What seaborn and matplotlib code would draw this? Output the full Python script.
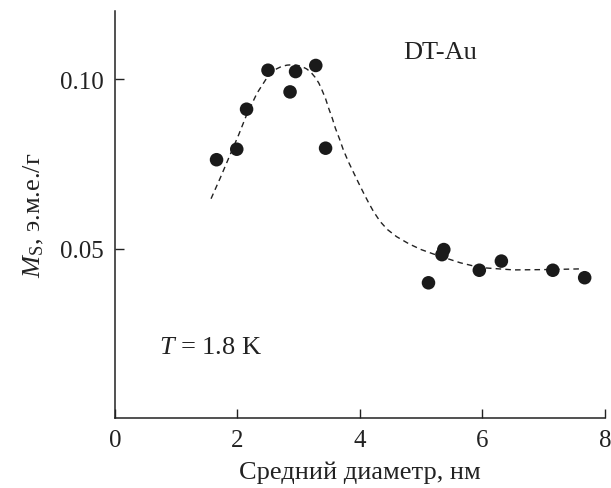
import matplotlib
matplotlib.use('Agg')
import matplotlib.pyplot as plt
import seaborn as sns
import pandas as pd

# measured points
diam = [1.66, 1.99, 2.15, 2.50, 2.86, 2.95, 3.28, 3.44,
        5.12, 5.34, 5.37, 5.95, 6.31, 7.15, 7.67]
ms = [0.0762, 0.0793, 0.0911, 0.1026, 0.0962, 0.1022, 0.1040, 0.0796,
      0.0399, 0.0482, 0.0497, 0.0436, 0.0463, 0.0436, 0.0414]

# dashed guide curve
curve_x = [1.57, 1.72, 1.88, 2.02, 2.15, 2.32, 2.48, 2.56, 2.64, 2.72,
           2.81, 2.89, 2.97, 3.05, 3.13, 3.20, 3.27, 3.33, 3.38, 3.44,
           3.49, 3.55, 3.60, 3.67, 3.73, 3.81, 3.90, 3.98, 4.06, 4.14,
           4.22, 4.33, 4.45, 4.60, 4.80, 5.00, 5.20, 5.40, 5.64, 5.96,
           6.51, 7.05, 7.60]
curve_y = [0.0647, 0.0708, 0.0776, 0.0835, 0.0894, 0.0958, 0.1003, 0.1019,
           0.1030, 0.1037, 0.1041, 0.1042, 0.1041, 0.1037, 0.1030, 0.1020,
           0.1005, 0.0988, 0.0968, 0.0942, 0.0914, 0.0884, 0.0855, 0.0822,
           0.0791, 0.0757, 0.0723, 0.0693, 0.0664, 0.0636, 0.0610, 0.0580,
           0.0556, 0.0535, 0.0514, 0.0497, 0.0484, 0.0472, 0.0458, 0.0444,
           0.0437, 0.0438, 0.0440]

x_ticks = [0, 2, 4, 6, 8]
y_ticks = [0.05, 0.10]

df = pd.DataFrame({'d': diam, 'm': ms})
fit = pd.DataFrame({'d': curve_x, 'm': curve_y})

sns.set_style('ticks')
plt.rcParams['font.family'] = ['Liberation Serif', 'DejaVu Serif']
plt.rcParams['mathtext.fontset'] = 'custom'
plt.rcParams['mathtext.rm'] = 'Liberation Serif'
plt.rcParams['mathtext.it'] = 'Liberation Serif:italic'

fig = plt.figure(figsize=(6.11, 4.89), dpi=100)
ax = fig.add_axes([0.188, 0.143, 0.802, 0.832])

sns.lineplot(data=fit, x='d', y='m', ax=ax, color='#222222', lw=1.0,
             linestyle=(0, (4, 3)), sort=False)
sns.scatterplot(data=df, x='d', y='m', ax=ax, color='#1a1a1a', s=95,
                edgecolor='none', zorder=3)

ax.set_xlim(0, 8)
ax.set_ylim(0, 0.12)
ax.set_xticks(x_ticks)
ax.set_xticklabels([str(v) for v in x_ticks])
ax.set_yticks(y_ticks)
ax.set_yticklabels(['0.05', '0.10'])
ax.tick_params(direction='in', length=6.5, width=1.0, labelsize=18,
               colors='#222222', pad=8)
for s in ['top', 'right']:
    ax.spines[s].set_visible(False)
for s in ['left', 'bottom']:
    ax.spines[s].set_linewidth(1.1)
    ax.spines[s].set_color('#222222')

ax.set_xlabel('Средний диаметр, нм', fontsize=19, color='#222222', labelpad=7)
ax.set_ylabel(r'$M_\mathrm{S}$, э.м.е./г', fontsize=19, color='#222222',
              labelpad=10)

ax.text(4.70, 0.108, 'DT-Au', fontsize=19, color='#222222', va='center')
ax.text(0.72, 0.021, r'$T$ = 1.8 K', fontsize=19, color='#222222',
        va='center')

fig.savefig('out.png', dpi=100)
